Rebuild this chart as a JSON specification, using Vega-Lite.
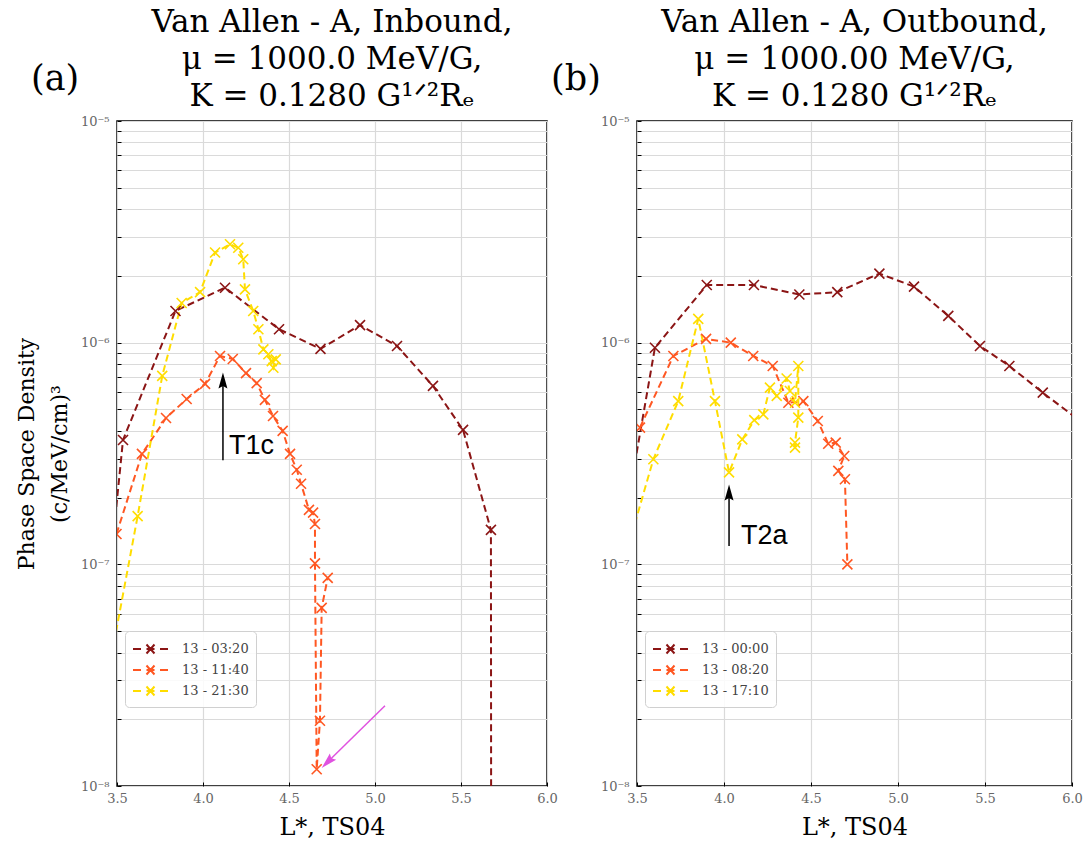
{
  "$schema": "https://vega.github.io/schema/vega-lite/v6.json",
  "background": "white",
  "padding": {"left": 14, "top": 6, "right": 5, "bottom": 2},
  "datasets": {
    "a": [
      {"s": "13 - 03:20", "i": 0, "L": 3.40, "f": 3.3e-8},
      {"s": "13 - 03:20", "i": 1, "L": 3.535, "f": 3.64e-7},
      {"s": "13 - 03:20", "i": 2, "L": 3.840, "f": 1.39e-6},
      {"s": "13 - 03:20", "i": 3, "L": 4.128, "f": 1.77e-6},
      {"s": "13 - 03:20", "i": 4, "L": 4.442, "f": 1.15e-6},
      {"s": "13 - 03:20", "i": 5, "L": 4.683, "f": 9.37e-7},
      {"s": "13 - 03:20", "i": 6, "L": 4.913, "f": 1.20e-6},
      {"s": "13 - 03:20", "i": 7, "L": 5.128, "f": 9.66e-7},
      {"s": "13 - 03:20", "i": 8, "L": 5.337, "f": 6.38e-7},
      {"s": "13 - 03:20", "i": 9, "L": 5.512, "f": 4.04e-7},
      {"s": "13 - 03:20", "i": 10, "L": 5.674, "f": 1.43e-7},
      {"s": "13 - 03:20", "i": 11, "L": 5.676, "f": 1e-9},
      {"s": "13 - 11:40", "i": 0, "L": 3.497, "f": 1.37e-7},
      {"s": "13 - 11:40", "i": 1, "L": 3.645, "f": 3.15e-7},
      {"s": "13 - 11:40", "i": 2, "L": 3.785, "f": 4.57e-7},
      {"s": "13 - 11:40", "i": 3, "L": 3.905, "f": 5.57e-7},
      {"s": "13 - 11:40", "i": 4, "L": 4.012, "f": 6.52e-7},
      {"s": "13 - 11:40", "i": 5, "L": 4.099, "f": 8.71e-7},
      {"s": "13 - 11:40", "i": 6, "L": 4.173, "f": 8.44e-7},
      {"s": "13 - 11:40", "i": 7, "L": 4.250, "f": 7.29e-7},
      {"s": "13 - 11:40", "i": 8, "L": 4.312, "f": 6.57e-7},
      {"s": "13 - 11:40", "i": 9, "L": 4.360, "f": 5.52e-7},
      {"s": "13 - 11:40", "i": 10, "L": 4.407, "f": 4.67e-7},
      {"s": "13 - 11:40", "i": 11, "L": 4.463, "f": 4.00e-7},
      {"s": "13 - 11:40", "i": 12, "L": 4.506, "f": 3.15e-7},
      {"s": "13 - 11:40", "i": 13, "L": 4.545, "f": 2.67e-7},
      {"s": "13 - 11:40", "i": 14, "L": 4.570, "f": 2.31e-7},
      {"s": "13 - 11:40", "i": 15, "L": 4.616, "f": 1.76e-7},
      {"s": "13 - 11:40", "i": 16, "L": 4.640, "f": 1.71e-7},
      {"s": "13 - 11:40", "i": 17, "L": 4.651, "f": 1.52e-7},
      {"s": "13 - 11:40", "i": 18, "L": 4.651, "f": 1.01e-7},
      {"s": "13 - 11:40", "i": 19, "L": 4.661, "f": 1.19e-8},
      {"s": "13 - 11:40", "i": 20, "L": 4.680, "f": 1.97e-8},
      {"s": "13 - 11:40", "i": 21, "L": 4.690, "f": 6.36e-8},
      {"s": "13 - 11:40", "i": 22, "L": 4.725, "f": 8.69e-8},
      {"s": "13 - 21:30", "i": 0, "L": 3.40, "f": 2.02e-8},
      {"s": "13 - 21:30", "i": 1, "L": 3.62, "f": 1.65e-7},
      {"s": "13 - 21:30", "i": 2, "L": 3.763, "f": 7.08e-7},
      {"s": "13 - 21:30", "i": 3, "L": 3.876, "f": 1.51e-6},
      {"s": "13 - 21:30", "i": 4, "L": 3.983, "f": 1.69e-6},
      {"s": "13 - 21:30", "i": 5, "L": 4.070, "f": 2.55e-6},
      {"s": "13 - 21:30", "i": 6, "L": 4.157, "f": 2.78e-6},
      {"s": "13 - 21:30", "i": 7, "L": 4.205, "f": 2.68e-6},
      {"s": "13 - 21:30", "i": 8, "L": 4.234, "f": 2.38e-6},
      {"s": "13 - 21:30", "i": 9, "L": 4.244, "f": 1.74e-6},
      {"s": "13 - 21:30", "i": 10, "L": 4.292, "f": 1.39e-6},
      {"s": "13 - 21:30", "i": 11, "L": 4.322, "f": 1.15e-6},
      {"s": "13 - 21:30", "i": 12, "L": 4.351, "f": 9.33e-7},
      {"s": "13 - 21:30", "i": 13, "L": 4.380, "f": 8.87e-7},
      {"s": "13 - 21:30", "i": 14, "L": 4.409, "f": 7.71e-7},
      {"s": "13 - 21:30", "i": 15, "L": 4.423, "f": 8.41e-7},
      {"s": "13 - 21:30", "i": 16, "L": 4.400, "f": 8.26e-7}
    ],
    "b": [
      {"s": "13 - 00:00", "i": 0, "L": 3.40, "f": 1.15e-7},
      {"s": "13 - 00:00", "i": 1, "L": 3.603, "f": 9.49e-7},
      {"s": "13 - 00:00", "i": 2, "L": 3.901, "f": 1.82e-6},
      {"s": "13 - 00:00", "i": 3, "L": 4.172, "f": 1.82e-6},
      {"s": "13 - 00:00", "i": 4, "L": 4.433, "f": 1.65e-6},
      {"s": "13 - 00:00", "i": 5, "L": 4.651, "f": 1.69e-6},
      {"s": "13 - 00:00", "i": 6, "L": 4.893, "f": 2.05e-6},
      {"s": "13 - 00:00", "i": 7, "L": 5.092, "f": 1.79e-6},
      {"s": "13 - 00:00", "i": 8, "L": 5.289, "f": 1.32e-6},
      {"s": "13 - 00:00", "i": 9, "L": 5.471, "f": 9.66e-7},
      {"s": "13 - 00:00", "i": 10, "L": 5.640, "f": 7.85e-7},
      {"s": "13 - 00:00", "i": 11, "L": 5.832, "f": 5.95e-7},
      {"s": "13 - 00:00", "i": 12, "L": 6.10, "f": 4.12e-7},
      {"s": "13 - 08:20", "i": 0, "L": 3.517, "f": 4.14e-7},
      {"s": "13 - 08:20", "i": 1, "L": 3.709, "f": 8.71e-7},
      {"s": "13 - 08:20", "i": 2, "L": 3.897, "f": 1.04e-6},
      {"s": "13 - 08:20", "i": 3, "L": 4.039, "f": 1.00e-6},
      {"s": "13 - 08:20", "i": 4, "L": 4.168, "f": 8.71e-7},
      {"s": "13 - 08:20", "i": 5, "L": 4.280, "f": 7.85e-7},
      {"s": "13 - 08:20", "i": 6, "L": 4.370, "f": 5.36e-7},
      {"s": "13 - 08:20", "i": 7, "L": 4.456, "f": 5.45e-7},
      {"s": "13 - 08:20", "i": 8, "L": 4.539, "f": 4.43e-7},
      {"s": "13 - 08:20", "i": 9, "L": 4.599, "f": 3.50e-7},
      {"s": "13 - 08:20", "i": 10, "L": 4.642, "f": 3.54e-7},
      {"s": "13 - 08:20", "i": 11, "L": 4.691, "f": 3.08e-7},
      {"s": "13 - 08:20", "i": 12, "L": 4.657, "f": 2.64e-7},
      {"s": "13 - 08:20", "i": 13, "L": 4.695, "f": 2.42e-7},
      {"s": "13 - 08:20", "i": 14, "L": 4.709, "f": 1.00e-7},
      {"s": "13 - 17:10", "i": 0, "L": 3.40, "f": 8.8e-8},
      {"s": "13 - 17:10", "i": 1, "L": 3.594, "f": 2.98e-7},
      {"s": "13 - 17:10", "i": 2, "L": 3.737, "f": 5.45e-7},
      {"s": "13 - 17:10", "i": 3, "L": 3.852, "f": 1.28e-6},
      {"s": "13 - 17:10", "i": 4, "L": 3.948, "f": 5.45e-7},
      {"s": "13 - 17:10", "i": 5, "L": 4.029, "f": 2.60e-7},
      {"s": "13 - 17:10", "i": 6, "L": 4.105, "f": 3.66e-7},
      {"s": "13 - 17:10", "i": 7, "L": 4.174, "f": 4.47e-7},
      {"s": "13 - 17:10", "i": 8, "L": 4.226, "f": 4.75e-7},
      {"s": "13 - 17:10", "i": 9, "L": 4.264, "f": 6.27e-7},
      {"s": "13 - 17:10", "i": 10, "L": 4.303, "f": 5.75e-7},
      {"s": "13 - 17:10", "i": 11, "L": 4.360, "f": 6.89e-7},
      {"s": "13 - 17:10", "i": 12, "L": 4.379, "f": 6.05e-7},
      {"s": "13 - 17:10", "i": 13, "L": 4.408, "f": 5.36e-7},
      {"s": "13 - 17:10", "i": 14, "L": 4.427, "f": 7.85e-7},
      {"s": "13 - 17:10", "i": 15, "L": 4.427, "f": 4.59e-7},
      {"s": "13 - 17:10", "i": 16, "L": 4.408, "f": 3.54e-7},
      {"s": "13 - 17:10", "i": 17, "L": 4.408, "f": 3.36e-7}
    ]
  },
  "config": {
    "view": {"stroke": "black", "strokeWidth": 1.5},
    "font": "DejaVu Serif",
    "title": {"font": "DejaVu Serif", "fontSize": 31, "fontWeight": "normal", "lineHeight": 37, "offset": -51, "color": "black", "anchor": "middle"},
    "axis": {
      "domain": false,
      "grid": true,
      "gridColor": "#dadada",
      "gridWidth": 1.2,
      "tickColor": "black",
      "tickSize": -4,
      "labelFont": "DejaVu Serif",
      "labelFontSize": 13,
      "labelColor": "#666666",
      "labelFlush": false,
      "titleFont": "DejaVu Serif",
      "titleFontWeight": "normal",
      "titleColor": "black"
    },
    "legend": {
      "title": null,
      "labelFont": "DejaVu Serif",
      "labelFontSize": 13,
      "labelColor": "#444444",
      "strokeColor": "#d0d0d0",
      "fillColor": "rgba(255,255,255,0.85)",
      "cornerRadius": 4,
      "padding": 7,
      "rowPadding": 1,
      "labelOffset": 28,
      "symbolType": "M-1,0L-0.2,0M0.35,0L1.15,0M1.7,0L2.5,0M0.35,-0.45L1.15,0.45M0.35,0.45L1.15,-0.45",
      "symbolSize": 400,
      "symbolStrokeWidth": 2,
      "symbolFillColor": "transparent",
      "symbolDash": []
    }
  },
  "hconcat": [
    {
      "width": 430,
      "height": 665,
      "title": {"text": ["Van Allen - A, Inbound,", "μ = 1000.0 MeV/G,", "K = 0.1280 G¹ᐟ²Rₑ"]},
      "encoding": {
        "x": {"field": "L", "type": "quantitative", "scale": {"domain": [3.5, 6.0], "nice": false, "zero": false},
          "axis": {"values": [3.5, 4.0, 4.5, 5.0, 5.5, 6.0], "format": ".1f", "title": "L*, TS04", "titleFontSize": 24, "titlePadding": 10, "labelPadding": 10}},
        "y": {"field": "f", "type": "quantitative", "scale": {"type": "log", "domain": [1e-8, 1e-5], "nice": false},
          "axis": {"values": [1e-8, 2e-8, 3e-8, 4e-8, 5e-8, 6e-8, 7e-8, 8e-8, 9e-8, 1e-7, 2e-7, 3e-7, 4e-7, 5e-7, 6e-7, 7e-7, 8e-7, 9e-7, 1e-6, 2e-6, 3e-6, 4e-6, 5e-6, 6e-6, 7e-6, 8e-6, 9e-6, 1e-5],
            "labelExpr": "abs(log(datum.value)/LN10 - round(log(datum.value)/LN10)) < 0.01 ? (round(log(datum.value)/LN10) == -5 ? '10⁻⁵' : round(log(datum.value)/LN10) == -6 ? '10⁻⁶' : round(log(datum.value)/LN10) == -7 ? '10⁻⁷' : '10⁻⁸') : ''",
            "title": ["Phase Space Density", "(c/MeV/cm)³"], "titleFontSize": 22, "titleLineHeight": 33, "titlePadding": 9, "labelPadding": 12}}
      },
      "layer": [
        {
          "data": {"name": "a"},
          "mark": {"type": "line", "strokeDash": [7, 4], "strokeWidth": 2, "clip": true},
          "encoding": {
            "color": {"field": "s", "type": "nominal", "scale": {"domain": ["13 - 03:20", "13 - 11:40", "13 - 21:30"], "range": ["#8b1515", "#ff5722", "#ffdd00"]},
              "legend": {"orient": "none", "legendX": 8, "legendY": 510}},
            "order": {"field": "i"}
          }
        },
        {
          "data": {"name": "a"},
          "mark": {"type": "point", "shape": "M-1,-1L1,1M-1,1L1,-1", "filled": false, "size": 100, "strokeWidth": 1.6, "opacity": 1, "clip": true},
          "encoding": {
            "color": {"field": "s", "type": "nominal"}
          }
        },
        {
          "data": {"values": [{"L": 4.116, "f": 2.95e-7, "L2": 4.116, "f2": 6.9e-7, "c": "black"}, {"L": 5.058, "f": 2.30e-8, "L2": 4.723, "f2": 1.28e-8, "c": "#e052e0"}]},
          "mark": {"type": "rule", "strokeWidth": 1.5},
          "encoding": {"x2": {"field": "L2"}, "y2": {"field": "f2"}, "color": {"field": "c", "type": "nominal", "scale": null, "legend": null}}
        },
        {
          "data": {"values": [{"L": 4.116, "f": 6.75e-7, "ang": 0, "c": "black"}, {"L": 4.723, "f": 1.28e-8, "ang": 225, "c": "#e052e0"}]},
          "mark": {"type": "point", "shape": "M0,-1L0.56,1L0,0.7L-0.56,1Z", "filled": true, "size": 256, "opacity": 1},
          "encoding": {"angle": {"field": "ang", "type": "quantitative", "scale": null}, "fill": {"field": "c", "type": "nominal", "scale": null, "legend": null}}
        },
        {
          "data": {"values": [{"L": 4.151, "f": 3.15e-7, "t": "T1c"}]},
          "mark": {"type": "text", "font": "Liberation Sans", "fontSize": 27, "align": "left", "baseline": "alphabetic", "color": "black"},
          "encoding": {"text": {"field": "t"}}
        },
        {
          "data": {"values": [{"L": 3.14, "f": 1.55e-5, "t": "(a)"}]},
          "mark": {"type": "text", "font": "DejaVu Serif", "fontSize": 35, "align": "center", "baseline": "middle", "color": "black"},
          "encoding": {"text": {"field": "t"}}
        }
      ]
    },
    {
      "width": 435,
      "height": 665,
      "title": {"text": ["Van Allen - A, Outbound,", "μ = 1000.00 MeV/G,", "K = 0.1280 G¹ᐟ²Rₑ"]},
      "encoding": {
        "x": {"field": "L", "type": "quantitative", "scale": {"domain": [3.5, 6.0], "nice": false, "zero": false},
          "axis": {"values": [3.5, 4.0, 4.5, 5.0, 5.5, 6.0], "format": ".1f", "title": "L*, TS04", "titleFontSize": 24, "titlePadding": 10, "labelPadding": 10}},
        "y": {"field": "f", "type": "quantitative", "scale": {"type": "log", "domain": [1e-8, 1e-5], "nice": false},
          "axis": {"values": [1e-8, 2e-8, 3e-8, 4e-8, 5e-8, 6e-8, 7e-8, 8e-8, 9e-8, 1e-7, 2e-7, 3e-7, 4e-7, 5e-7, 6e-7, 7e-7, 8e-7, 9e-7, 1e-6, 2e-6, 3e-6, 4e-6, 5e-6, 6e-6, 7e-6, 8e-6, 9e-6, 1e-5],
            "labelExpr": "abs(log(datum.value)/LN10 - round(log(datum.value)/LN10)) < 0.01 ? (round(log(datum.value)/LN10) == -5 ? '10⁻⁵' : round(log(datum.value)/LN10) == -6 ? '10⁻⁶' : round(log(datum.value)/LN10) == -7 ? '10⁻⁷' : '10⁻⁸') : ''",
            "title": null, "labelPadding": 12}}
      },
      "layer": [
        {
          "data": {"name": "b"},
          "mark": {"type": "line", "strokeDash": [7, 4], "strokeWidth": 2, "clip": true},
          "encoding": {
            "color": {"field": "s", "type": "nominal", "scale": {"domain": ["13 - 00:00", "13 - 08:20", "13 - 17:10"], "range": ["#8b1515", "#ff5722", "#ffdd00"]},
              "legend": {"orient": "none", "legendX": 8, "legendY": 510}},
            "order": {"field": "i"}
          }
        },
        {
          "data": {"name": "b"},
          "mark": {"type": "point", "shape": "M-1,-1L1,1M-1,1L1,-1", "filled": false, "size": 100, "strokeWidth": 1.6, "opacity": 1, "clip": true},
          "encoding": {
            "color": {"field": "s", "type": "nominal"}
          }
        },
        {
          "data": {"values": [{"L": 4.029, "f": 1.21e-7, "L2": 4.029, "f2": 2.15e-7}]},
          "mark": {"type": "rule", "strokeWidth": 1.5, "color": "black"},
          "encoding": {"x2": {"field": "L2"}, "y2": {"field": "f2"}}
        },
        {
          "data": {"values": [{"L": 4.029, "f": 2.11e-7}]},
          "mark": {"type": "point", "shape": "M0,-1L0.56,1L0,0.7L-0.56,1Z", "filled": true, "size": 256, "opacity": 1, "color": "black"},
          "encoding": {}
        },
        {
          "data": {"values": [{"L": 4.098, "f": 1.23e-7, "t": "T2a"}]},
          "mark": {"type": "text", "font": "Liberation Sans", "fontSize": 27, "align": "left", "baseline": "alphabetic", "color": "black"},
          "encoding": {"text": {"field": "t"}}
        },
        {
          "data": {"values": [{"L": 3.149, "f": 1.55e-5, "t": "(b)"}]},
          "mark": {"type": "text", "font": "DejaVu Serif", "fontSize": 35, "align": "center", "baseline": "middle", "color": "black"},
          "encoding": {"text": {"field": "t"}}
        }
      ]
    }
  ],
  "bounds": "flush",
  "spacing": 90,
  "resolve": {"scale": {"color": "independent"}, "legend": {"color": "independent"}}
}
